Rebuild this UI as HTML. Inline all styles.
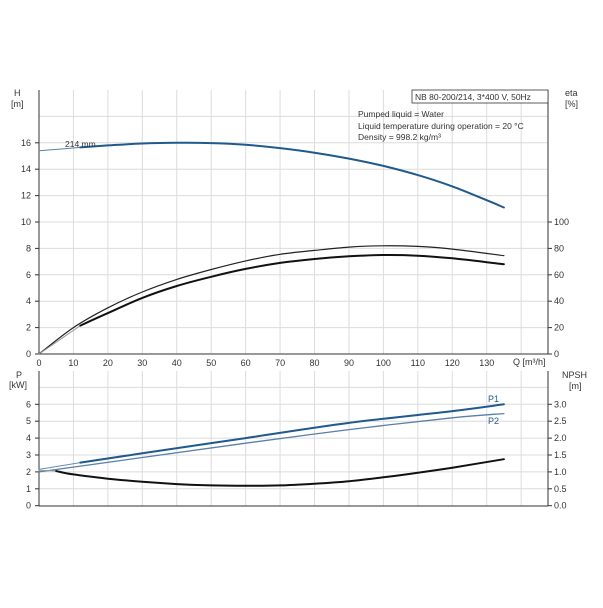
<!DOCTYPE html>
<html><head><meta charset="utf-8"><style>
body{margin:0;background:#fff;width:603px;height:603px;overflow:hidden}
svg{font-family:"Liberation Sans",sans-serif;font-size:9px;fill:#333}
</style></head><body>
<svg id="s" width="603" height="603" xmlns="http://www.w3.org/2000/svg">
<g id="grid" stroke="#dcdcdc" stroke-width="1"></g>
<g id="axes" stroke="#333" stroke-width="1" fill="none">
<line x1="39" y1="90" x2="39" y2="354"/><line x1="548" y1="90" x2="548" y2="354"/><line x1="39" y1="354" x2="548" y2="354"/>
<line x1="39" y1="371" x2="39" y2="506"/><line x1="548" y1="371" x2="548" y2="506"/><line x1="39" y1="506" x2="548" y2="506"/>
</g>
<g id="lab"></g>
<g id="curves" fill="none" stroke-linecap="round"></g>
<rect x="412" y="90" width="136" height="13" fill="#fff" stroke="#333" stroke-width="0.8"/>
<text x="415" y="100" font-size="8.5">NB 80-200/214, 3*400 V, 50Hz</text>
<text x="358" y="117" font-size="8.5">Pumped liquid = Water</text>
<text x="358" y="129" font-size="8.5">Liquid temperature during operation = 20 °C</text>
<text x="358" y="140" font-size="8.5">Density = 998.2 kg/m³</text>
<text x="65" y="147" font-size="8.5">214 mm</text>
<text x="14" y="96">H</text><text x="11" y="107">[m]</text>
<text x="565" y="96">eta</text><text x="565" y="107">[%]</text>
<text x="513" y="365">Q [m³/h]</text>
<text x="16" y="378">P</text><text x="9" y="388">[kW]</text>
<text x="562" y="378">NPSH</text><text x="569" y="389">[m]</text>
<text x="488" y="402" fill="#2a5a8a">P1</text>
<text x="488" y="424" fill="#2a5a8a">P2</text>
</svg>
<script>
const X=q=>39+q*3.444, YU=h=>354-h*13.2, YL=p=>505.7-p*16.9;
const NS="http://www.w3.org/2000/svg";
function el(p,t,a,txt){const e=document.createElementNS(NS,t);for(const k in a)e.setAttribute(k,a[k]);if(txt!==undefined)e.textContent=txt;document.getElementById(p).appendChild(e);return e;}
for(let q=10;q<=140;q+=10){el('grid','line',{x1:X(q),y1:90,x2:X(q),y2:354});el('grid','line',{x1:X(q),y1:371,x2:X(q),y2:506});}
for(let h=2;h<=18;h+=2)el('grid','line',{x1:39,y1:YU(h),x2:548,y2:YU(h)});
for(let p=1;p<=7;p++)el('grid','line',{x1:39,y1:YL(p),x2:548,y2:YL(p)});
for(let q=0;q<=130;q+=10)el('lab','text',{x:X(q),y:366,'text-anchor':'middle'},q);
for(let h=0;h<=16;h+=2){el('lab','text',{x:31,y:YU(h)+3,'text-anchor':'end'},h);el('axes','line',{x1:35,y1:YU(h),x2:39,y2:YU(h)});}
for(let e=0;e<=100;e+=20){el('lab','text',{x:554,y:YU(e/10)+3},e);el('axes','line',{x1:548,y1:YU(e/10),x2:552,y2:YU(e/10)});}
for(let p=0;p<=6;p++){el('lab','text',{x:31,y:YL(p)+3,'text-anchor':'end'},p);el('axes','line',{x1:35,y1:YL(p),x2:39,y2:YL(p)});
 el('lab','text',{x:554,y:YL(p)+3},(p/2).toFixed(1));el('axes','line',{x1:548,y1:YL(p),x2:552,y2:YL(p)});}
function path(pts,Y,st,w){let d=pts.map((p,i)=>(i?'L':'M')+X(p[0]).toFixed(1)+' '+Y(p[1]).toFixed(1)).join(' ');
 // smooth via catmull-rom
 d='M'+X(pts[0][0])+' '+Y(pts[0][1]);
 for(let i=0;i<pts.length-1;i++){const p0=pts[Math.max(0,i-1)],p1=pts[i],p2=pts[i+1],p3=pts[Math.min(pts.length-1,i+2)];
  const c1x=X(p1[0])+(X(p2[0])-X(p0[0]))/6,c1y=Y(p1[1])+(Y(p2[1])-Y(p0[1]))/6,c2x=X(p2[0])-(X(p3[0])-X(p1[0]))/6,c2y=Y(p2[1])-(Y(p3[1])-Y(p1[1]))/6;
  d+=` C${c1x.toFixed(1)} ${c1y.toFixed(1)} ${c2x.toFixed(1)} ${c2y.toFixed(1)} ${X(p2[0]).toFixed(1)} ${Y(p2[1]).toFixed(1)}`;}
 el('curves','path',{d:d,stroke:st,'stroke-width':w});}
path([[0,15.4],[12,15.65]],YU,'#5a7fa8',1);
path([[12,15.65],[20,15.8],[30,15.95],[40,16.0],[50,15.98],[60,15.85],[70,15.6],[80,15.25],[90,14.8],[100,14.25],[110,13.55],[120,12.7],[130,11.65],[135,11.1]],YU,'#1f5a8e',2);
path([[0,0],[10,2.0],[20,3.5],[30,4.7],[40,5.65],[50,6.4],[60,7.05],[70,7.55],[80,7.85],[90,8.1],[100,8.2],[110,8.15],[120,7.95],[135,7.45]],YU,'#222',1.2);
path([[0,0],[12,2.15]],YU,'#999',1);
path([[12,2.15],[20,3.1],[30,4.25],[40,5.15],[50,5.85],[60,6.45],[70,6.9],[80,7.2],[90,7.4],[100,7.5],[110,7.45],[120,7.25],[135,6.8]],YU,'#111',2);
path([[0,2.15],[12,2.55]],YL,'#6a8db3',1);
path([[12,2.55],[30,3.1],[60,4.0],[90,4.9],[120,5.6],[135,6.0]],YL,'#1f5a8e',2);
path([[0,2.0],[30,2.85],[60,3.7],[90,4.5],[120,5.2],[135,5.45]],YL,'#5a7fa8',1.3);
path([[0,2.1],[5,2.05]],YL,'#999',1);
path([[5,2.05],[10,1.85],[20,1.6],[30,1.42],[40,1.28],[50,1.2],[60,1.18],[70,1.2],[80,1.3],[90,1.45],[100,1.68],[110,1.95],[120,2.25],[135,2.75]],YL,'#111',2);
</script>
</body></html>
